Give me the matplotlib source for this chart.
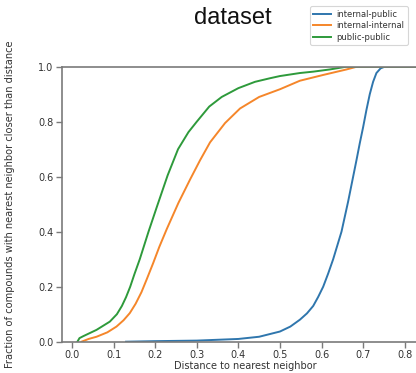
import matplotlib
matplotlib.use("Agg")
import matplotlib.pyplot as plt

# nearest-neighbour distance ECDFs, one curve per dataset pair
labels = ["internal-public", "internal-internal", "public-public"]

ip_dist = [0.13, 0.20, 0.30, 0.40, 0.45, 0.50, 0.525, 0.548, 0.565, 0.58, 0.592, 0.604,
           0.616, 0.628, 0.638, 0.648, 0.656, 0.664, 0.674, 0.684, 0.692, 0.70, 0.708,
           0.716, 0.724, 0.732, 0.742, 0.752, 0.85]
ip_frac = [0.0, 0.002, 0.004, 0.010, 0.018, 0.037, 0.055, 0.080, 0.103, 0.130, 0.163, 0.200,
           0.248, 0.300, 0.350, 0.400, 0.455, 0.510, 0.585, 0.660, 0.722, 0.780, 0.843,
           0.900, 0.945, 0.977, 0.994, 1.0, 1.0]

ii_dist = [0.023, 0.04, 0.059, 0.085, 0.107, 0.124, 0.139, 0.153, 0.167, 0.18, 0.195, 0.21,
           0.228, 0.256, 0.284, 0.308, 0.332, 0.368, 0.404, 0.45, 0.50, 0.548, 0.604,
           0.66, 0.685, 0.85]
ii_frac = [0.0, 0.010, 0.018, 0.034, 0.055, 0.078, 0.104, 0.138, 0.180, 0.228, 0.285, 0.345,
           0.410, 0.505, 0.590, 0.660, 0.725, 0.795, 0.848, 0.890, 0.918, 0.949, 0.970,
           0.990, 1.0, 1.0]

pp_dist = [0.013, 0.018, 0.027, 0.059, 0.091, 0.108, 0.12, 0.13, 0.14, 0.15, 0.163,
           0.184, 0.204, 0.23, 0.255, 0.28, 0.30, 0.33, 0.36, 0.40, 0.44, 0.476, 0.50,
           0.548, 0.58, 0.62, 0.66, 0.85]
pp_frac = [0.0, 0.013, 0.020, 0.043, 0.073, 0.100, 0.130, 0.162, 0.200, 0.245, 0.300,
           0.400, 0.490, 0.605, 0.700, 0.762, 0.800, 0.855, 0.890, 0.922, 0.945, 0.958,
           0.966, 0.977, 0.982, 0.990, 1.0, 1.0]

colors = ["#2f76ad", "#f5862a", "#2e9a3b"]
spine_gray = "#7a7a7a"

fig = plt.figure(figsize=(4.16, 3.73), dpi=100)
ax = fig.add_axes([62 / 416, 1 - 341.7 / 373, 366 / 416, 275 / 373])

for xs, ys, c, lab in zip([ip_dist, ii_dist, pp_dist], [ip_frac, ii_frac, pp_frac], colors, labels):
    ax.plot(xs, ys, color=c, lw=1.4, label=lab)

ax.set_xlim(-0.024, 0.856)
ax.set_ylim(0, 1)
ax.set_xticks([0.0, 0.1, 0.2, 0.3, 0.4, 0.5, 0.6, 0.7, 0.8])
ax.set_yticks([0.0, 0.2, 0.4, 0.6, 0.8, 1.0])
for s in ax.spines.values():
    s.set_color(spine_gray)
    s.set_linewidth(1.2)
ax.tick_params(colors=spine_gray, labelcolor="#333333", labelsize=7, length=4, width=1, pad=2)

ax.set_xlabel("Distance to nearest neighbor", fontsize=7, color="#333333")
ax.xaxis.label.set_va("center")
ax.xaxis.set_label_coords(0.5, -0.09)
ax.set_ylabel("Fraction of compounds with nearest neighbor closer than distance",
              fontsize=7.1, color="#333333")
ax.yaxis.set_label_coords(-0.128, 0.5)

fig.text(233 / 416, 1 - 18 / 373, "dataset", fontsize=17, family="Liberation Sans",
         ha="center", va="center", color="#111111")

handles, labs = ax.get_legend_handles_labels()
leg = fig.legend(handles, labs, loc="upper right", bbox_to_anchor=(412 / 416, 1 - 2 / 373),
                 fontsize=6, frameon=True, handlelength=2.2, borderpad=0.4,
                 labelspacing=0.3, handletextpad=0.6)
leg.get_frame().set_edgecolor("#cccccc")
leg.get_frame().set_linewidth(0.8)
for t in leg.get_texts():
    t.set_color("#333333")

fig.savefig("out.png", dpi=100)
